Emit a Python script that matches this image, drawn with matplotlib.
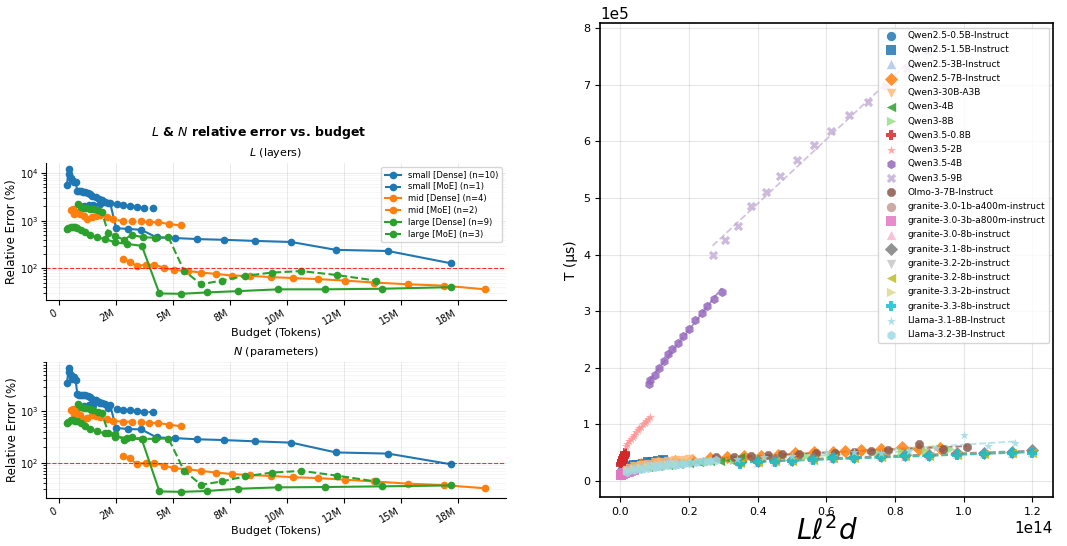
import numpy as np
import matplotlib
matplotlib.use("Agg")
import matplotlib.pyplot as plt
from matplotlib.ticker import FuncFormatter, MultipleLocator

# ---------------- Left panels: relative error vs budget ----------------
series_names = ["small [Dense] (n=10)", "small [MoE] (n=1)", "mid [Dense] (n=4)",
                "mid [MoE] (n=2)", "large [Dense] (n=9)", "large [MoE] (n=3)"]

# budgets in millions of tokens
small_dense_x = [0.34, 0.42, 0.45, 0.50, 0.57, 0.64, 0.72, 0.80, 0.88, 0.96, 1.05, 1.15,
                 1.25, 1.35, 1.45, 1.60, 1.75, 1.87, 2.00, 2.24, 2.50, 3.04, 3.60, 4.28,
                 5.09, 6.07, 7.24, 8.60, 10.20, 12.15, 14.44, 17.20]
small_dense_L = [5600, 12000, 9500, 8000, 7000, 6600, 6500, 4200, 4100, 4100, 4050, 4000,
                 3800, 3600, 3300, 3100, 2900, 2700, 2500, 2350, 690, 670, 640, 445,
                 430, 410, 395, 375, 355, 243, 230, 127]
small_dense_N = [3500, 6900, 5800, 5000, 4300, 4600, 4100, 2150, 2100, 2100, 2100, 2050,
                 2000, 1900, 1750, 1650, 1550, 1450, 1400, 1300, 475, 450, 445, 310,
                 300, 285, 275, 260, 245, 158, 150, 93]

small_moe_x = [1.10, 1.30, 1.50, 1.80, 2.16, 2.53, 2.79, 3.09, 3.40, 3.74, 4.14]
small_moe_L = [2000, 2100, 2150, 2250, 2330, 2220, 2150, 2050, 1920, 1830, 1800]
small_moe_N = [1250, 1300, 1350, 1450, 1140, 1110, 1080, 1050, 1010, 980, 960]

mid_dense_x = [2.79, 3.11, 3.40, 3.80, 4.17, 4.60, 5.06, 5.67, 6.23, 6.89, 7.60, 8.40,
               9.30, 10.28, 11.37, 12.54, 13.83, 15.30, 16.90, 18.70]
mid_dense_L = [155, 138, 112, 118, 118, 103, 91, 87, 81, 76, 70, 69,
               65, 62, 59, 55, 50, 46, 43, 36]
mid_dense_N = [135, 122, 93, 100, 100, 87, 78, 74, 69, 64, 60, 57,
               55, 52, 50, 46.5, 43, 39, 36.5, 31.6]

mid_moe_x = [0.53, 0.60, 0.66, 0.76, 0.90, 1.07, 1.21, 1.43, 1.62, 1.80, 2.12, 2.38,
             2.82, 3.20, 3.60, 3.95, 4.35, 4.84, 5.34]
mid_moe_L = [1700, 1750, 1390, 1550, 1350, 1230, 1080, 1200, 1280, 1320, 1220, 1090,
             960, 960, 960, 940, 920, 850, 790]
mid_moe_N = [1080, 1100, 900, 1050, 850, 720, 750, 830, 800, 760, 720, 650,
             630, 630, 620, 600, 590, 550, 510]

large_dense_x = [0.36, 0.41, 0.50, 0.60, 0.70, 0.78, 0.95, 1.14, 1.36, 1.65, 2.02, 2.46,
                 2.97, 3.63, 4.40, 5.35, 6.50, 7.86, 9.62, 11.67, 14.18, 17.22]
large_dense_L = [660, 700, 720, 730, 720, 700, 640, 570, 490, 445, 410, 350,
                 325, 295, 29.5, 29, 31, 33, 36, 36, 37, 40]
large_dense_N = [590, 620, 670, 670, 660, 640, 580, 510, 450, 410, 370, 318,
                 305, 283, 27.5, 27, 28, 31, 33, 33.5, 34.5, 36]

large_moe_x = [0.82, 0.97, 1.10, 1.20, 1.35, 1.50, 1.70, 1.87, 2.16, 2.46, 2.85, 3.19,
               3.70, 4.20, 4.80, 5.48, 6.23, 7.13, 8.16, 9.33, 10.64, 12.18, 13.89]
large_moe_L = [2250, 1900, 1850, 1800, 1780, 1750, 1650, 1500, 550, 470, 400, 500,
               445, 440, 445, 89, 46, 55, 69, 81, 87, 72, 55]
large_moe_N = [1370, 1200, 1180, 1150, 1100, 1050, 980, 930, 380, 360, 275, 310,
               290, 292, 295, 70, 37, 43, 54, 64, 69, 56, 43]

threshold = 100

# ---------------- Right panel: T vs L*l^2*d ----------------
model_names = ["Qwen2.5-0.5B-Instruct", "Qwen2.5-1.5B-Instruct", "Qwen2.5-3B-Instruct",
               "Qwen2.5-7B-Instruct", "Qwen3-30B-A3B", "Qwen3-4B", "Qwen3-8B",
               "Qwen3.5-0.8B", "Qwen3.5-2B", "Qwen3.5-4B", "Qwen3.5-9B",
               "Olmo-3-7B-Instruct", "granite-3.0-1b-a400m-instruct",
               "granite-3.0-3b-a800m-instruct", "granite-3.0-8b-instruct",
               "granite-3.1-8b-instruct", "granite-3.2-2b-instruct", "granite-3.2-8b-instruct",
               "granite-3.3-2b-instruct", "granite-3.3-8b-instruct", "Llama-3.1-8B-Instruct",
               "Llama-3.2-3B-Instruct"]

# x in units of 1e14, T in units of 1e5 microseconds
x_q25_05 = [0.005, 0.012, 0.02, 0.03, 0.04, 0.05, 0.06, 0.07, 0.08, 0.09, 0.10, 0.11, 0.12, 0.13]
t_q25_05 = [0.22, 0.24, 0.26, 0.27, 0.29, 0.30, 0.31, 0.32, 0.33, 0.34, 0.35, 0.36, 0.37, 0.38]
x_q25_15 = [0.01, 0.02, 0.03, 0.04, 0.05, 0.065, 0.08, 0.095, 0.11, 0.125]
t_q25_15 = [0.20, 0.23, 0.26, 0.28, 0.29, 0.31, 0.33, 0.34, 0.36, 0.37]
x_q25_3 = [0.02, 0.04, 0.06, 0.08, 0.10, 0.12, 0.14, 0.16, 0.18, 0.20, 0.22, 0.24]
t_q25_3 = [0.20, 0.22, 0.24, 0.26, 0.27, 0.29, 0.30, 0.31, 0.33, 0.34, 0.35, 0.36]
x_q25_7 = [0.06, 0.11, 0.16, 0.21, 0.26, 0.31, 0.36, 0.41, 0.46, 0.51, 0.565, 0.62, 0.655,
           0.70, 0.76, 0.82, 0.87, 0.93]
t_q25_7 = [0.30, 0.33, 0.36, 0.38, 0.40, 0.42, 0.44, 0.45, 0.47, 0.50, 0.51, 0.52, 0.53,
           0.55, 0.57, 0.60, 0.56, 0.58]
x_q3_30 = [0.02, 0.04, 0.06, 0.08, 0.10, 0.12, 0.14, 0.16, 0.18, 0.20]
t_q3_30 = [0.24, 0.27, 0.29, 0.31, 0.33, 0.34, 0.36, 0.37, 0.38, 0.39]
x_q3_4 = [0.02, 0.05, 0.08, 0.11, 0.14, 0.17, 0.20, 0.23, 0.26, 0.29, 0.32, 0.35]
t_q3_4 = [0.20, 0.23, 0.25, 0.27, 0.29, 0.30, 0.32, 0.33, 0.35, 0.36, 0.38, 0.42]
x_q3_8 = [0.05, 0.12, 0.19, 0.26, 0.33, 0.40, 0.47, 0.54, 0.61, 0.68, 0.75, 0.82, 0.89, 0.96]
t_q3_8 = [0.25, 0.29, 0.32, 0.35, 0.38, 0.40, 0.42, 0.44, 0.46, 0.48, 0.50, 0.52, 0.54, 0.57]
x_q35_08 = [0.002, 0.003, 0.004, 0.005, 0.006, 0.007, 0.008, 0.009, 0.010, 0.011, 0.012,
            0.013, 0.014, 0.015]
t_q35_08 = [0.29, 0.31, 0.33, 0.35, 0.36, 0.38, 0.39, 0.41, 0.42, 0.44, 0.45, 0.47, 0.48, 0.50]
x_q35_2 = [0.016, 0.021, 0.026, 0.031, 0.036, 0.041, 0.046, 0.051, 0.056, 0.061, 0.066,
           0.071, 0.076, 0.081, 0.086]
t_q35_2 = [0.62, 0.66, 0.70, 0.74, 0.78, 0.82, 0.86, 0.90, 0.93, 0.96, 1.00, 1.03, 1.06,
           1.09, 1.13]
x_q35_4 = [0.085, 0.088, 0.101, 0.112, 0.128, 0.138, 0.152, 0.169, 0.183, 0.201, 0.218,
           0.238, 0.254, 0.272, 0.295]
t_q35_4 = [1.72, 1.78, 1.88, 1.99, 2.12, 2.24, 2.34, 2.44, 2.56, 2.68, 2.84, 2.97, 3.10,
           3.21, 3.34]
x_q35_9 = [0.269, 0.305, 0.342, 0.382, 0.424, 0.466, 0.514, 0.563, 0.615, 0.665, 0.720,
           0.775, 0.835, 0.895]
t_q35_9 = [3.99, 4.25, 4.50, 4.85, 5.10, 5.38, 5.66, 5.93, 6.18, 6.46, 6.69, 6.98, 7.30, 7.60]
x_olmo = [0.28, 0.33, 0.38, 0.43, 0.47, 0.52, 0.57, 0.625, 0.68, 0.73, 0.78, 0.87, 0.94, 1.01]
t_olmo = [0.42, 0.42, 0.44, 0.46, 0.48, 0.48, 0.49, 0.50, 0.51, 0.53, 0.55, 0.65, 0.57, 0.61]
x_g30_1 = [0.002, 0.004, 0.006, 0.008, 0.010, 0.013, 0.016, 0.020, 0.025, 0.030]
t_g30_1 = [0.10, 0.11, 0.12, 0.13, 0.14, 0.15, 0.16, 0.17, 0.18, 0.19]
x_g30_3 = [0.001, 0.003, 0.005, 0.008, 0.011, 0.015, 0.020, 0.025, 0.030, 0.035, 0.040]
t_g30_3 = [0.10, 0.11, 0.12, 0.13, 0.14, 0.15, 0.16, 0.17, 0.18, 0.19, 0.20]
x_g8 = [0.35, 0.40, 0.45, 0.50, 0.56, 0.62, 0.68, 0.76, 0.83, 0.90, 0.98, 1.06, 1.14, 1.20]
t_g30_8 = [0.33, 0.34, 0.36, 0.37, 0.39, 0.41, 0.42, 0.44, 0.45, 0.46, 0.48, 0.49, 0.50, 0.52]
t_g31_8 = [0.34, 0.35, 0.37, 0.38, 0.40, 0.42, 0.43, 0.45, 0.46, 0.47, 0.49, 0.50, 0.51, 0.55]
x_g32_2 = [0.02, 0.04, 0.06, 0.08, 0.10, 0.12, 0.14, 0.16]
t_g32_2 = [0.20, 0.22, 0.24, 0.26, 0.27, 0.28, 0.30, 0.31]
t_g32_8 = [0.32, 0.33, 0.35, 0.36, 0.38, 0.40, 0.41, 0.43, 0.44, 0.45, 0.47, 0.48, 0.49, 0.50]
x_g33_2 = [0.02, 0.04, 0.06, 0.08, 0.10, 0.12, 0.14, 0.16]
t_g33_2 = [0.19, 0.21, 0.23, 0.25, 0.26, 0.27, 0.29, 0.30]
t_g33_8 = [0.31, 0.33, 0.34, 0.36, 0.38, 0.40, 0.41, 0.43, 0.44, 0.45, 0.47, 0.48, 0.49, 0.50]
x_l31_8 = [0.10, 0.18, 0.26, 0.34, 0.42, 0.50, 0.60, 0.68, 0.76, 0.84, 0.92, 1.00, 1.07, 1.15]
t_l31_8 = [0.30, 0.33, 0.36, 0.39, 0.42, 0.45, 0.52, 0.52, 0.50, 0.53, 0.58, 0.82, 0.62, 0.68]
x_l32_3 = [0.02, 0.04, 0.06, 0.08, 0.10, 0.12, 0.14, 0.16, 0.18, 0.20, 0.22, 0.24, 0.26, 0.28]
t_l32_3 = [0.17, 0.19, 0.21, 0.23, 0.25, 0.26, 0.28, 0.29, 0.31, 0.32, 0.33, 0.35, 0.36, 0.37]

model_x = [x_q25_05, x_q25_15, x_q25_3, x_q25_7, x_q3_30, x_q3_4, x_q3_8, x_q35_08, x_q35_2,
           x_q35_4, x_q35_9, x_olmo, x_g30_1, x_g30_3, x_g8, x_g8, x_g32_2, x_g8, x_g33_2,
           x_g8, x_l31_8, x_l32_3]
model_t = [t_q25_05, t_q25_15, t_q25_3, t_q25_7, t_q3_30, t_q3_4, t_q3_8, t_q35_08, t_q35_2,
           t_q35_4, t_q35_9, t_olmo, t_g30_1, t_g30_3, t_g30_8, t_g31_8, t_g32_2, t_g32_8,
           t_g33_2, t_g33_8, t_l31_8, t_l32_3]

# ---------------- styles ----------------
plt.rcParams['font.family'] = ['DejaVu Sans']
fig = plt.figure(figsize=(10.67, 5.46), dpi=100)

ax1 = fig.add_axes([0.0431, 0.4505, 0.4311, 0.2509])
ax2 = fig.add_axes([0.0431, 0.0879, 0.4311, 0.2490])
ax3 = fig.add_axes([0.5623, 0.0897, 0.4246, 0.8681])

c_small, c_mid, c_large = "#1f77b4", "#ff7f0e", "#2ca02c"
left_series = [
    (small_dense_x, small_dense_L, small_dense_N, c_small, "-"),
    (small_moe_x, small_moe_L, small_moe_N, c_small, "--"),
    (mid_dense_x, mid_dense_L, mid_dense_N, c_mid, "-"),
    (mid_moe_x, mid_moe_L, mid_moe_N, c_mid, "--"),
    (large_dense_x, large_dense_L, large_dense_N, c_large, "-"),
    (large_moe_x, large_moe_L, large_moe_N, c_large, "--"),
]

def fmt_budget(v, pos):
    if abs(v) < 1e-9:
        return "0"
    return f"{v/1e6:.0f}M"

for ax, idx, title in [(ax1, 1, r"$L$ (layers)"), (ax2, 2, r"$N$ (parameters)")]:
    for name, s in zip(series_names, left_series):
        xs = np.array(s[0]) * 1e6
        ax.plot(xs, s[idx], color=s[3], linestyle=s[4], marker="o", markersize=4.5,
                linewidth=1.5, label=name)
    ax.axhline(threshold, color="red", linestyle="--", linewidth=0.8, alpha=0.8)
    ax.set_yscale("log")
    ax.xaxis.set_major_locator(MultipleLocator(2.5e6))
    ax.xaxis.set_major_formatter(FuncFormatter(fmt_budget))
    ax.tick_params(axis="x", labelsize=7, rotation=30, pad=2)
    ax.tick_params(axis="y", labelsize=7, pad=2)
    ax.grid(True, which="major", alpha=0.3, linewidth=0.6)
    ax.grid(True, which="minor", axis="y", alpha=0.15, linewidth=0.5)
    ax.spines["top"].set_visible(False)
    ax.spines["right"].set_visible(False)
    ax.set_xlabel("Budget (Tokens)", fontsize=8, labelpad=1)
    ax.set_ylabel("Relative Error (%)", fontsize=8.5, labelpad=1)
    ax.set_title(title, fontsize=8, pad=5)

for ax in (ax1, ax2):
    for lab in ax.get_xticklabels():
        lab.set_horizontalalignment("right")

ax1.legend(loc="upper right", fontsize=6, framealpha=0.8, labelspacing=0.35)
fig.text(0.242, 0.758, r"$L$ & $N$ relative error vs. budget", fontsize=9,
         fontweight="bold", ha="center", va="center")

# right panel
colors = ["#1f77b4", "#1f77b4", "#aec7e8", "#ff7f0e", "#ffbb78", "#2ca02c", "#98df8a",
          "#d62728", "#ff9896", "#9467bd", "#c5b0d5", "#8c564b", "#c49c94", "#e377c2",
          "#f7b6d2", "#7f7f7f", "#c7c7c7", "#bcbd22", "#dbdb8d", "#17becf", "#9edae5",
          "#9edae5"]
markers = ['o', 's', '^', 'D', 'v', '<', '>', 'P', '*', 'h', 'X', '8',
           'o', 's', '^', 'D', 'v', '<', '>', 'P', '*', 'h']

for name, xs, ts, c, m in zip(model_names, model_x, model_t, colors, markers):
    xs = np.array(xs) * 1e14
    ts = np.array(ts) * 1e5
    ax3.scatter(xs, ts, color=c, marker=m, s=45, alpha=0.85, linewidths=0, label=name,
                zorder=3)
    coef = np.polyfit(xs, ts, 1)
    xf = np.linspace(xs.min(), xs.max(), 50)
    ax3.plot(xf, np.polyval(coef, xf), color=c, linestyle="--", linewidth=1.3, alpha=0.75,
             zorder=2)

ax3.ticklabel_format(style="sci", axis="both", scilimits=(0, 0))
ax3.set_xlabel(r"$L\ell^2d$", fontsize=20, labelpad=0)
ax3.set_ylabel("T (µs)", fontsize=10)
ax3.tick_params(labelsize=8)
ax3.xaxis.get_offset_text().set_fontsize(11)
ax3.yaxis.get_offset_text().set_fontsize(11)
ax3.grid(True, alpha=0.3)
for sp in ax3.spines.values():
    sp.set_linewidth(1.2)
ax3.legend(loc="upper right", fontsize=6.5, framealpha=0.8, labelspacing=0.58)

fig.savefig("out.png", dpi=100)
